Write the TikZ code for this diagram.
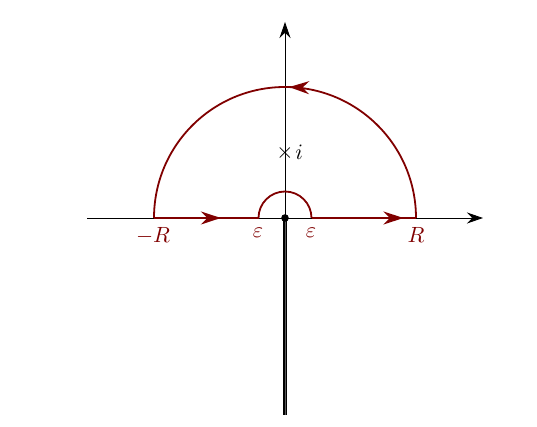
\documentclass[tikz,border=0pt]{standalone}
\usetikzlibrary{arrows.meta,decorations.markings}
\definecolor{contour}{RGB}{128,0,0}
\begin{document}
\begin{tikzpicture}[x=0.5pt,y=-0.5pt,
  axis/.style={line width=0.45pt,-{Stealth[length=8pt,width=5.5pt]}},
  cut/.style={line width=0.6pt,double=gray!70!black,double distance=0.4pt},
  path/.style={contour,line width=0.9pt},
  midarrow/.style={postaction={decorate},decoration={markings,
     mark=at position #1 with {\arrow{Stealth[length=10pt,width=6.5pt]}}}},
  lbl/.style={text=contour,anchor=base}]
\useasboundingbox (0,0) rectangle (537,427);
\coordinate (O) at (285,218);
\coordinate (xl) at (87,218);
\coordinate (xr) at (483,218);
\coordinate (yb) at (285,415);
\coordinate (yt) at (285,22);
\coordinate (mR) at (154,218);
\coordinate (me) at (258.5,218);
\coordinate (pe) at (311.5,218);
\coordinate (pR) at (416,218);
% axes
\draw[axis] (xl) -- (xr);
\draw[axis] (O) -- (yt);
\draw[cut] (O) -- (yb);
% contour
\draw[path,midarrow=0.64] (mR) -- (me);
\draw[path] (me) arc[start angle=180,end angle=360,radius=26.5];
\draw[path,midarrow=0.88] (pe) -- (pR);
\draw[path,midarrow=0.49] (pR) arc[start angle=0,end angle=-180,radius=131];
% origin dot
\fill (O) circle[radius=3.8];
% labels
\node[lbl,scale=1.1] (lmR) at (153,243) {$-R$};
\node[lbl,scale=1.1] (lR) at (416,243) {$R$};
\node[lbl,scale=1.1] (lme) at (258,238) {$\varepsilon$};
\node[lbl,scale=1.1] (lpe) at (311,238) {$\varepsilon$};
\node[inner sep=0pt,scale=1.1] (pole) at (285,153) {$\times$};
\node[anchor=base west,inner sep=0pt,scale=1.1] (li) at ([xshift=0.5]pole.east |- 0,160) {$i$};
\end{tikzpicture}
\end{document}
